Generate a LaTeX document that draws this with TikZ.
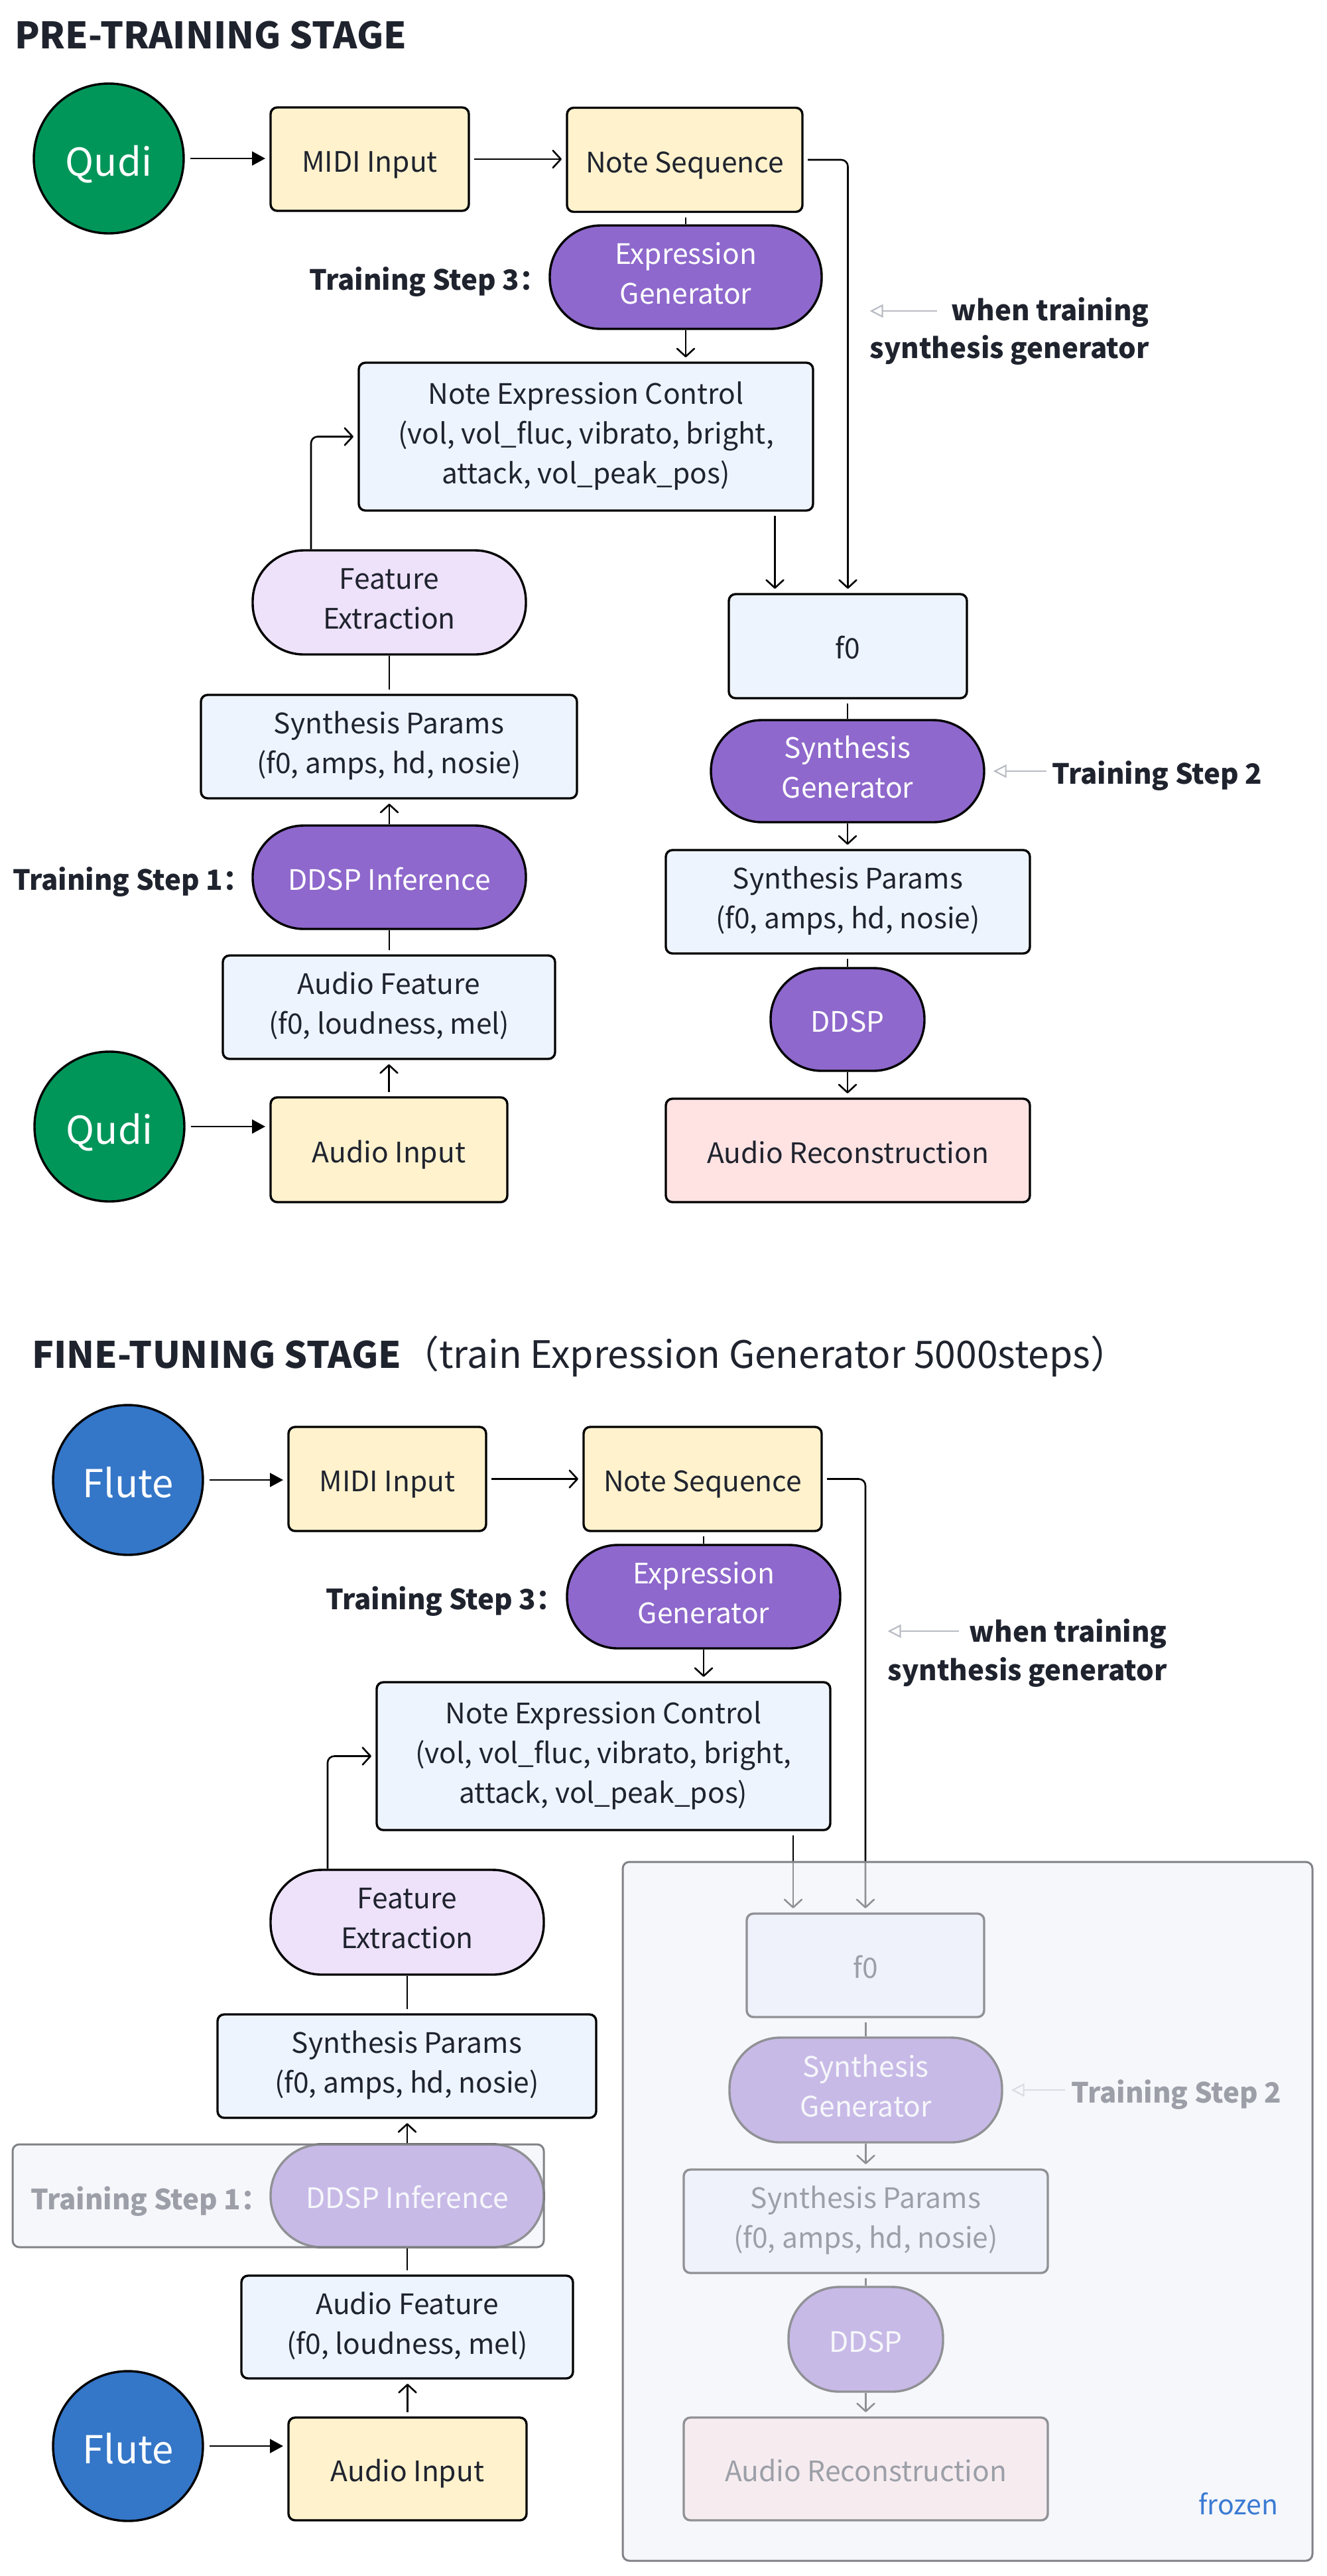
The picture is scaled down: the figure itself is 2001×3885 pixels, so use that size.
\documentclass[tikz,border=0pt]{standalone}
\usepackage{fontspec}
\setmainfont{Noto Sans CJK SC}
\usetikzlibrary{arrows.meta,calc}
\definecolor{ink}{RGB}{31,35,46}
\definecolor{qgreen}{RGB}{0,150,90}
\definecolor{fblue}{RGB}{52,118,200}
\definecolor{ylw}{RGB}{255,242,205}
\definecolor{lblue}{RGB}{238,244,253}
\definecolor{purp}{RGB}{142,104,204}
\definecolor{lav}{RGB}{238,226,251}
\definecolor{pinkc}{RGB}{255,227,227}
\definecolor{garrow}{RGB}{185,188,196}
\definecolor{ovl}{RGB}{240,242,249}
\definecolor{frzline}{RGB}{128,130,135}
\definecolor{frzblue}{RGB}{59,123,210}
\begin{document}
\begin{tikzpicture}[x=1pt,y=-1pt,
  box/.style={rectangle, rounded corners=10pt, draw=black, line width=3.4pt, align=center, inner sep=0pt, outer sep=8pt, text=ink,
    font=\fontsize{42.5}{60}\selectfont, minimum height=156pt,
    execute at begin node={\rule{0pt}{50pt}}, execute at end node={\rule[-12pt]{0pt}{12pt}}},
  stad/.style={box, rounded corners=77pt, outer sep=1.7pt, fill=purp, text=white},
  stadl/.style={stad, fill=lav, text=ink},
  circ/.style={circle, draw=black, line width=3.4pt, minimum size=226pt, inner sep=0pt, outer sep=10pt, text=white,
    font=\fontsize{58}{60}\selectfont, text height=62pt, text depth=10pt},
  lbl/.style={inner sep=0pt, text=ink, font=\fontsize{42}{58}\selectfont\bfseries},
  ttl/.style={inner sep=0pt, text=ink, font=\fontsize{55}{60}\selectfont, anchor=base west},
  conn/.style={draw=black, line width=2.6pt, line join=round},
  arr/.style={conn, -{Straight Barb[length=12pt,width=26pt,line join=round,line cap=round]}},
  farr/.style={conn, -{Triangle[length=20pt,width=21pt]}},
  garr/.style={draw=garrow, line width=2.2pt, -{Triangle[open,length=20pt,width=20pt]}},
  frozen/.style={rectangle, rounded corners=10pt, draw=frzline, line width=3pt, fill=ovl, fill opacity=0.6, inner sep=0pt}
]
\useasboundingbox (0,0) rectangle (2001,3885);
\fill[white] (0,0) rectangle (2001,3885);

% ================= PRE-TRAINING =================
\node[ttl, font=\fontsize{55}{60}\selectfont\bfseries] (t1) at (22,73) {PRE-TRAINING STAGE};

\node[circ, fill=qgreen] (qudi1) at (164,239) {Qudi};
\node[box, fill=ylw, minimum width=299pt] (midi1) at (557.5,240) {MIDI Input};
\node[box, fill=ylw, minimum width=355pt, minimum height=157pt] (note1) at (1032.5,241) {Note Sequence};
\node[stad, minimum width=410pt] (eg1) at (1034,418) {Expression\\Generator};
\node[lbl, anchor=base west] (s3a) at (466,437) {Training Step 3：};
\node[box, fill=lblue, minimum width=685pt, minimum height=223pt] (nec1) at (883.5,658.5) {Note Expression Control\\(vol, vol\_fluc, vibrato, bright,\\attack, vol\_peak\_pos)};
\node[stadl, minimum width=412pt, minimum height=157pt] (fe1) at (587,908.5) {Feature\\Extraction};
\node[box, fill=lblue, minimum width=567pt] (spl1) at (586.5,1126) {Synthesis Params\\(f0, amps, hd, nosie)};
\node[stad, minimum width=412pt] (ddi1) at (587,1323) {DDSP Inference};
\node[lbl, anchor=base west] (s1a) at (19,1342) {Training Step 1：};
\node[box, fill=lblue, minimum width=501pt] (af1) at (586.5,1519) {Audio Feature\\(f0, loudness, mel)};
\node[box, fill=ylw, minimum width=357pt, minimum height=158pt] (ai1) at (586.5,1734) {Audio Input};
\node[circ, fill=qgreen] (qudi2) at (165,1699) {Qudi};

\node[box, fill=lblue, minimum width=359pt, minimum height=157pt] (f01) at (1278.5,974.5) {f0};
\node[stad, minimum width=412pt, minimum height=154pt] (sg1) at (1278,1163) {Synthesis\\Generator};
\node[lbl, anchor=base west] (s2a) at (1586,1182) {Training Step 2};
\node[box, fill=lblue, minimum width=549pt] (spr1) at (1278.5,1360) {Synthesis Params\\(f0, amps, hd, nosie)};
\node[stad, minimum width=232pt, minimum height=155pt] (dd1) at (1278,1537.5) {DDSP};
\node[box, fill=pinkc, minimum width=549pt] (ar1) at (1278.5,1735) {Audio Reconstruction};
\node[lbl, anchor=base east] (w1a) at (1733,483) {when training};
\node[lbl, anchor=base east] (w1b) at (1733,540) {synthesis generator};

% connectors (top)
\draw[farr] (qudi1.east) -- (qudi1.east -| midi1.west);
\draw[arr] (midi1.east) -- (midi1.east -| note1.west);
\draw[arr, rounded corners=10pt] (note1.east) -| (f01.north);
\draw[conn] (note1.south -| eg1.north) -- (eg1.north);
\draw[arr] (eg1.south) -- (eg1.south |- nec1.north);
\coordinate (f01in) at ($(f01.north)+(-110,0)$);
\draw[arr] (nec1.south -| f01in) -- (f01in);
\coordinate (fe1out) at ($(fe1.north)+(-118,0)$);
\draw[arr, rounded corners=10pt] (fe1out) |- (nec1.west);
\draw[conn] (spl1.north -| fe1.south) -- (fe1.south);
\draw[arr] (ddi1.north) -- (ddi1.north |- spl1.south);
\draw[conn] (af1.north -| ddi1.south) -- (ddi1.south);
\draw[arr] (ai1.north) -- (ai1.north |- af1.south);
\draw[farr] (qudi2.east) -- (qudi2.east -| ai1.west);
\draw[conn] (f01.south -| sg1.north) -- (sg1.north);
\draw[arr] (sg1.south) -- (sg1.south |- spr1.north);
\draw[conn] (spr1.south -| dd1.north) -- (dd1.north);
\draw[arr] (dd1.south) -- (dd1.south |- ar1.north);
\draw[garr] ($(s2a.west |- sg1.east)+(-8,0)$) -- ($(sg1.east)+(12,0)$);
\coordinate (w1tip) at ($(w1b.west |- w1a.base)+(0,-14)$);
\draw[garr] ($(w1a.base west)+(-22,-14)$) -- (w1tip);

% ================= FINE-TUNING =================
\node[ttl] (t2) at (48,2063) {\textbf{FINE-TUNING STAGE}{\fontsize{57}{60}\selectfont（train Expression Generator 5000steps）}};

\node[circ, fill=fblue] (flute1) at (193,2232) {Flute};
\node[box, fill=ylw, minimum width=298pt, minimum height=157pt] (midi2) at (584,2230.5) {MIDI Input};
\node[box, fill=ylw, minimum width=359pt, minimum height=157pt] (note2) at (1059.5,2230.5) {Note Sequence};
\node[stad, minimum width=412pt] (eg2) at (1061,2408) {Expression\\Generator};
\node[lbl, anchor=base west] (s3b) at (491,2427) {Training Step 3：};
\node[box, fill=lblue, minimum width=684pt, minimum height=223pt] (nec2) at (910,2648.5) {Note Expression Control\\(vol, vol\_fluc, vibrato, bright,\\attack, vol\_peak\_pos)};
\node[stadl, minimum width=412pt, minimum height=158pt] (fe2) at (614,2899) {Feature\\Extraction};
\node[box, fill=lblue, minimum width=571pt] (spl2) at (613.5,3116) {Synthesis Params\\(f0, amps, hd, nosie)};
\node[stad, minimum width=412pt, minimum height=155pt] (ddi2) at (614,3311.5) {DDSP Inference};
\node[lbl, anchor=base west] (s1b) at (46,3332) {Training Step 1：};
\node[box, fill=lblue, minimum width=500pt, minimum height=155pt] (af2) at (614,3509.5) {Audio Feature\\(f0, loudness, mel)};
\node[box, fill=ylw, minimum width=359pt, minimum height=155pt] (ai2) at (614.5,3723.5) {Audio Input};
\node[circ, fill=fblue] (flute2) at (193,3689) {Flute};

\node[box, fill=lblue, minimum width=358pt] (f02) at (1305,2964) {f0};
\node[stad, minimum width=411pt, minimum height=158pt] (sg2) at (1305.5,3152) {Synthesis\\Generator};
\node[lbl, anchor=base west] (s2b) at (1615,3171) {Training Step 2};
\node[box, fill=lblue, minimum width=549pt] (spr2) at (1305.5,3350) {Synthesis Params\\(f0, amps, hd, nosie)};
\node[stad, minimum width=233pt, minimum height=158pt] (dd2) at (1305.5,3528) {DDSP};
\node[box, fill=pinkc, minimum width=549pt, minimum height=155pt] (ar2) at (1305.5,3723.5) {Audio Reconstruction};
\node[lbl, anchor=base east] (w2a) at (1760,2476) {when training};
\node[lbl, anchor=base east] (w2b) at (1760,2534) {synthesis generator};

% connectors (bottom)
\draw[farr] (flute1.east) -- (flute1.east -| midi2.west);
\draw[arr] (midi2.east) -- (midi2.east -| note2.west);
\draw[arr, rounded corners=10pt] (note2.east) -| (f02.north);
\draw[conn] (note2.south -| eg2.north) -- (eg2.north);
\draw[arr] (eg2.south) -- (eg2.south |- nec2.north);
\coordinate (f02in) at ($(f02.north)+(-109,0)$);
\draw[arr] (nec2.south -| f02in) -- (f02in);
\coordinate (fe2out) at ($(fe2.north)+(-120,0)$);
\draw[arr, rounded corners=10pt] (fe2out) |- (nec2.west);
\draw[conn] (spl2.north -| fe2.south) -- (fe2.south);
\draw[arr] (ddi2.north) -- (ddi2.north |- spl2.south);
\draw[conn] (af2.north -| ddi2.south) -- (ddi2.south);
\draw[arr] (ai2.north) -- (ai2.north |- af2.south);
\draw[farr] (flute2.east) -- (flute2.east -| ai2.west);
\draw[conn] (f02.south -| sg2.north) -- (sg2.north);
\draw[arr] (sg2.south) -- (sg2.south |- spr2.north);
\draw[conn] (spr2.south -| dd2.north) -- (dd2.north);
\draw[arr] (dd2.south) -- (dd2.south |- ar2.north);
\draw[garr] ($(s2b.west |- sg2.east)+(-9,0)$) -- ($(sg2.east)+(12,0)$);
\coordinate (w2tip) at ($(w2b.west |- w2a.base)+(0,-16)$);
\draw[garr] ($(w2a.base west)+(-16,-16)$) -- (w2tip);

% frozen overlays
\node[frozen, minimum width=1040pt, minimum height=1054pt] (frz) at (1459,3335) {};
\node[frozen, minimum width=801pt, minimum height=155pt] (st1box) at (419.5,3311.5) {};
\node[anchor=base west, inner sep=0pt, text=frzblue, font=\fontsize{41}{50}\selectfont] (frztxt) at (1807,3792) {frozen};
\end{tikzpicture}
\end{document}
